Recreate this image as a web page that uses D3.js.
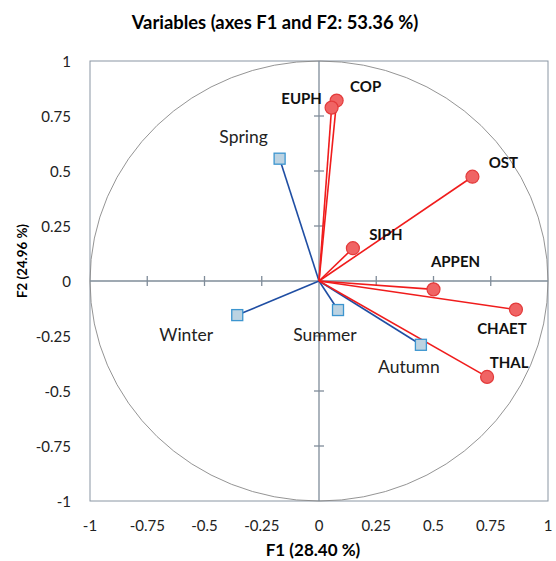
<!DOCTYPE html>
<html>
<head>
<meta charset="utf-8">
<script src="https://cdn.jsdelivr.net/npm/d3@7"></script>
<style>
  body { margin: 0; background: #fff; }
  svg { font-family: Lato, "Open Sans", sans-serif; }
</style>
</head>
<body>
<div class="container"></div>
<script>
let width = 556
let height = 561
let margin = { left: 90, right: 8, top: 61, bottom: 60 }

// variables (red, circles)
const variables = ['COP', 'EUPH', 'OST', 'SIPH', 'APPEN', 'CHAET', 'THAL']
const varF1 = [0.077, 0.055, 0.67, 0.148, 0.50, 0.86, 0.734]
const varF2 = [0.82, 0.788, 0.474, 0.149, -0.038, -0.13, -0.436]

// supplementary (blue, squares)
const seasons = ['Spring', 'Winter', 'Summer', 'Autumn']
const seasonF1 = [-0.172, -0.357, 0.083, 0.445]
const seasonF2 = [0.556, -0.155, -0.132, -0.29]

const ticks = [-1, -0.75, -0.5, -0.25, 0, 0.25, 0.5, 0.75, 1]

// label offsets from point (centre x, baseline y), in px
const labelOffset = {
    COP: [29, -9], EUPH: [-30, -4], OST: [31, -9], SIPH: [33, -8],
    APPEN: [22, -22], CHAET: [-14, 24], THAL: [22, -9],
    Spring: [-36, -16], Winter: [-51, 26], Summer: [-13, 31], Autumn: [-12, 28]
}

let svg = d3.select('.container')
    .append('svg')
    .attr('width', width)
    .attr('height', height)

let x = d3.scaleLinear().domain([-1, 1]).range([margin.left, width - margin.right])
let y = d3.scaleLinear().domain([-1, 1]).range([height - margin.bottom, margin.top])

// frame
svg.append('rect')
    .attr('x', x(-1)).attr('y', y(1))
    .attr('width', x(1) - x(-1)).attr('height', y(-1) - y(1))
    .attr('fill', 'none').attr('stroke', '#8a96a3').attr('stroke-width', 1)

// unit circle
svg.append('ellipse')
    .attr('cx', x(0)).attr('cy', y(0))
    .attr('rx', x(1) - x(0)).attr('ry', y(0) - y(1))
    .attr('fill', 'none').attr('stroke', '#888').attr('stroke-width', 0.9)

// central axes
svg.append('line')
    .attr('x1', x(-1)).attr('x2', x(1)).attr('y1', y(0)).attr('y2', y(0))
    .attr('stroke', '#7f8c99').attr('stroke-width', 1.3)
svg.append('line')
    .attr('x1', x(0)).attr('x2', x(0)).attr('y1', y(-1)).attr('y2', y(1))
    .attr('stroke', '#7f8c99').attr('stroke-width', 1.3)

let inner = ticks.filter(t => t !== 0 && Math.abs(t) !== 1)
svg.selectAll('.xt').data(inner).enter().append('line')
    .attr('x1', d => x(d)).attr('x2', d => x(d))
    .attr('y1', y(0) - 5).attr('y2', y(0) + 5)
    .attr('stroke', '#7f8c99').attr('stroke-width', 1.3)
svg.selectAll('.yt').data(inner).enter().append('line')
    .attr('y1', d => y(d)).attr('y2', d => y(d))
    .attr('x1', x(0) - 5).attr('x2', x(0) + 5)
    .attr('stroke', '#7f8c99').attr('stroke-width', 1.3)

// tick labels
svg.selectAll('.xl').data(ticks).enter().append('text')
    .attr('x', d => x(d)).attr('y', y(-1) + 30)
    .attr('text-anchor', 'middle').attr('font-size', 15).attr('fill', '#222')
    .text(d => d)
svg.selectAll('.yl').data(ticks).enter().append('text')
    .attr('x', margin.left - 19).attr('y', d => y(d) + 5.5)
    .attr('text-anchor', 'end').attr('font-size', 15).attr('fill', '#222')
    .text(d => d)

// title + axis titles
svg.append('text')
    .attr('x', 275).attr('y', 29)
    .attr('text-anchor', 'middle').attr('font-size', 18.4).attr('font-weight', 'bold')
    .text('Variables (axes F1 and F2: 53.36 %)')
svg.append('text')
    .attr('x', 313).attr('y', 556)
    .attr('text-anchor', 'middle').attr('font-size', 17).attr('font-weight', 'bold')
    .text('F1 (28.40 %)')
svg.append('text')
    .attr('transform', 'translate(27,261) rotate(-90)')
    .attr('text-anchor', 'middle').attr('font-size', 13.3).attr('font-weight', 'bold')
    .text('F2 (24.96 %)')

// season vectors
seasons.forEach((s, i) => {
    svg.append('line')
        .attr('x1', x(0)).attr('y1', y(0))
        .attr('x2', x(seasonF1[i])).attr('y2', y(seasonF2[i]))
        .attr('stroke', '#1f4ea3').attr('stroke-width', 1.6)
})

// variable vectors
variables.forEach((v, i) => {
    svg.append('line')
        .attr('x1', x(0)).attr('y1', y(0))
        .attr('x2', x(varF1[i])).attr('y2', y(varF2[i]))
        .attr('stroke', '#f01c1c').attr('stroke-width', 1.6)
})

seasons.forEach((s, i) => {
    svg.append('rect')
        .attr('x', x(seasonF1[i]) - 5.5).attr('y', y(seasonF2[i]) - 5.5)
        .attr('width', 11).attr('height', 11)
        .attr('fill', '#bcd3e2').attr('stroke', '#3c95cf').attr('stroke-width', 1.3)
    let o = labelOffset[s]
    svg.append('text')
        .attr('x', x(seasonF1[i]) + o[0]).attr('y', y(seasonF2[i]) + o[1])
        .attr('text-anchor', 'middle').attr('font-size', 17.5).attr('fill', '#222')
        .text(s)
})

variables.forEach((v, i) => {
    svg.append('circle')
        .attr('cx', x(varF1[i])).attr('cy', y(varF2[i])).attr('r', 6.5)
        .attr('fill', '#f06464').attr('stroke', '#e33b3b').attr('stroke-width', 1.2)
    let o = labelOffset[v]
    svg.append('text')
        .attr('x', x(varF1[i]) + o[0]).attr('y', y(varF2[i]) + o[1])
        .attr('text-anchor', 'middle').attr('font-size', 15).attr('font-weight', 'bold').attr('fill', '#111')
        .text(v)
})
</script>
</body>
</html>
